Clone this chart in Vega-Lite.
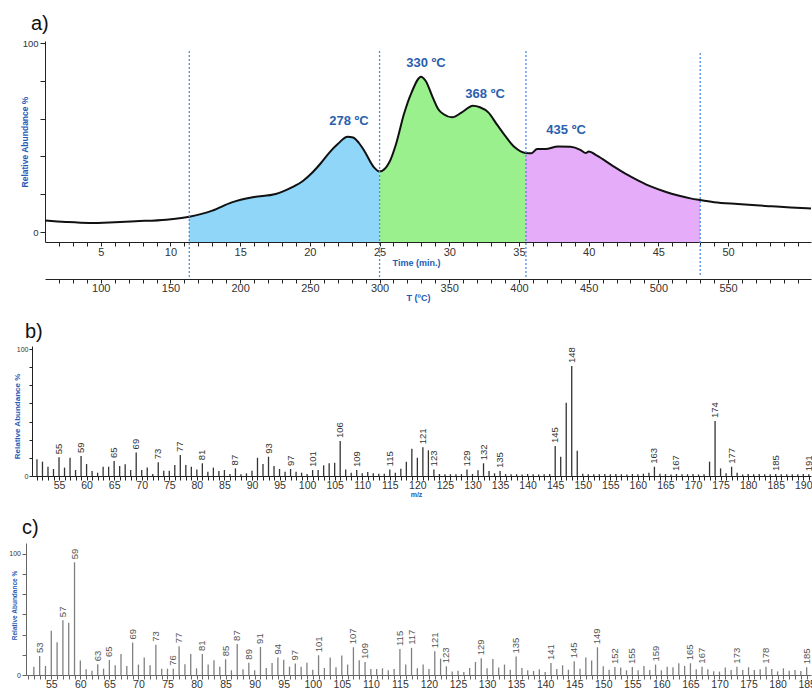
{
  "$schema": "https://vega.github.io/schema/vega-lite/v6.json",
  "padding": {"left": 8, "top": 14, "right": 0, "bottom": 0},
  "config": {
    "view": {"stroke": null},
    "font": "Liberation Sans",
    "axis": {"grid": false, "domainColor": "#222", "tickColor": "#222", "labelColor": "#333", "labelFont": "Liberation Sans", "labelOverlap": false, "labelFlush": false},
    "title": {"font": "Liberation Sans", "fontWeight": "normal", "color": "#111", "anchor": "start", "frame": "group"}
  },
  "datasets": {
    "curve": [
      {"t": 1.0, "v": 6.1}, {"t": 2.5, "v": 5.3}, {"t": 4.2, "v": 4.8}, {"t": 6.0, "v": 5.2}, {"t": 7.5, "v": 5.7},
      {"t": 9.7, "v": 6.5}, {"t": 11.35, "v": 8.1}, {"t": 13.0, "v": 11.3}, {"t": 14.4, "v": 15.7}, {"t": 15.9, "v": 18.4},
      {"t": 17.55, "v": 20.1}, {"t": 18.7, "v": 23.6}, {"t": 19.5, "v": 27.0}, {"t": 20.2, "v": 31.6}, {"t": 20.8, "v": 36.5},
      {"t": 21.4, "v": 42.0}, {"t": 22.0, "v": 46.5}, {"t": 22.7, "v": 50.4}, {"t": 23.1, "v": 50.0}, {"t": 23.5, "v": 47.3},
      {"t": 23.9, "v": 43.0}, {"t": 24.6, "v": 34.2}, {"t": 25.0, "v": 32.0}, {"t": 25.7, "v": 36.9}, {"t": 26.2, "v": 47.0},
      {"t": 26.75, "v": 62.4}, {"t": 27.3, "v": 73.9}, {"t": 27.98, "v": 82.2}, {"t": 28.3, "v": 80.0}, {"t": 28.86, "v": 70.4},
      {"t": 29.2, "v": 65.1}, {"t": 29.6, "v": 62.3}, {"t": 30.2, "v": 60.7}, {"t": 30.9, "v": 63.3}, {"t": 31.7, "v": 66.8},
      {"t": 32.2, "v": 66.0}, {"t": 32.8, "v": 63.3}, {"t": 33.4, "v": 57.1}, {"t": 34.0, "v": 51.0}, {"t": 34.7, "v": 44.8},
      {"t": 35.5, "v": 41.8}, {"t": 35.9, "v": 41.7}, {"t": 36.3, "v": 43.9}, {"t": 36.9, "v": 43.9}, {"t": 37.8, "v": 45.3},
      {"t": 38.7, "v": 45.1}, {"t": 39.4, "v": 43.5}, {"t": 39.8, "v": 41.8}, {"t": 40.0, "v": 42.6}, {"t": 40.6, "v": 40.4},
      {"t": 41.7, "v": 35.1}, {"t": 42.6, "v": 31.0}, {"t": 43.6, "v": 27.1}, {"t": 44.5, "v": 24.0}, {"t": 45.5, "v": 21.3},
      {"t": 46.5, "v": 19.2}, {"t": 47.3, "v": 17.8}, {"t": 48.0, "v": 16.9}, {"t": 49.0, "v": 15.8}, {"t": 50.7, "v": 14.8},
      {"t": 52.0, "v": 14.1}, {"t": 53.1, "v": 13.6}, {"t": 54.5, "v": 13.0}, {"t": 55.95, "v": 12.5}
    ],
    "areas": [
      {"region": "r1", "t": 11.35, "v": 8.1}, {"region": "r1", "t": 13.0, "v": 11.3}, {"region": "r1", "t": 14.4, "v": 15.7},
      {"region": "r1", "t": 15.9, "v": 18.4}, {"region": "r1", "t": 17.55, "v": 20.1}, {"region": "r1", "t": 18.7, "v": 23.6},
      {"region": "r1", "t": 19.5, "v": 27.0}, {"region": "r1", "t": 20.2, "v": 31.6}, {"region": "r1", "t": 20.8, "v": 36.5},
      {"region": "r1", "t": 21.4, "v": 42.0}, {"region": "r1", "t": 22.0, "v": 46.5}, {"region": "r1", "t": 22.7, "v": 50.4},
      {"region": "r1", "t": 23.1, "v": 50.0}, {"region": "r1", "t": 23.5, "v": 47.3}, {"region": "r1", "t": 23.9, "v": 43.0},
      {"region": "r1", "t": 24.6, "v": 34.2}, {"region": "r1", "t": 25.0, "v": 32.0},
      {"region": "r2", "t": 25.0, "v": 32.0}, {"region": "r2", "t": 25.7, "v": 36.9}, {"region": "r2", "t": 26.2, "v": 47.0},
      {"region": "r2", "t": 26.75, "v": 62.4}, {"region": "r2", "t": 27.3, "v": 73.9}, {"region": "r2", "t": 27.98, "v": 82.2},
      {"region": "r2", "t": 28.3, "v": 80.0}, {"region": "r2", "t": 28.86, "v": 70.4}, {"region": "r2", "t": 29.2, "v": 65.1},
      {"region": "r2", "t": 29.6, "v": 62.3}, {"region": "r2", "t": 30.2, "v": 60.7}, {"region": "r2", "t": 30.9, "v": 63.3},
      {"region": "r2", "t": 31.7, "v": 66.8}, {"region": "r2", "t": 32.2, "v": 66.0}, {"region": "r2", "t": 32.8, "v": 63.3},
      {"region": "r2", "t": 33.4, "v": 57.1}, {"region": "r2", "t": 34.0, "v": 51.0}, {"region": "r2", "t": 34.7, "v": 44.8},
      {"region": "r2", "t": 35.5, "v": 41.8},
      {"region": "r3", "t": 35.5, "v": 41.8}, {"region": "r3", "t": 35.9, "v": 41.7}, {"region": "r3", "t": 36.3, "v": 43.9},
      {"region": "r3", "t": 36.9, "v": 43.9}, {"region": "r3", "t": 37.8, "v": 45.3}, {"region": "r3", "t": 38.7, "v": 45.1},
      {"region": "r3", "t": 39.4, "v": 43.5}, {"region": "r3", "t": 39.8, "v": 41.8}, {"region": "r3", "t": 40.0, "v": 42.6},
      {"region": "r3", "t": 40.6, "v": 40.4}, {"region": "r3", "t": 41.7, "v": 35.1}, {"region": "r3", "t": 42.6, "v": 31.0},
      {"region": "r3", "t": 43.6, "v": 27.1}, {"region": "r3", "t": 44.5, "v": 24.0}, {"region": "r3", "t": 45.5, "v": 21.3},
      {"region": "r3", "t": 46.5, "v": 19.2}, {"region": "r3", "t": 47.3, "v": 17.8}, {"region": "r3", "t": 48.0, "v": 16.9}
    ],
    "peaks": [
      {"t": 22.81, "v": 58.7, "label": "278 ºC"},
      {"t": 28.33, "v": 89.4, "label": "330 ºC"},
      {"t": 32.57, "v": 73.0, "label": "368 ºC"},
      {"t": 38.38, "v": 54.0, "label": "435 ºC"}
    ],
    "cuts": [
      {"t": 11.35, "top": 95.8, "bottom": -23.8},
      {"t": 25.0, "top": 95.8, "bottom": -23.8},
      {"t": 35.5, "top": 95.8, "bottom": -23.8},
      {"t": 48.0, "top": 94.7, "bottom": -23.8}
    ],
    "specB": [
      {"mz": 51, "v": 13.1}, {"mz": 52, "v": 11.3}, {"mz": 53, "v": 7.3}, {"mz": 54, "v": 5.5}, {"mz": 55, "v": 14.7, "lab": 1},
      {"mz": 56, "v": 6.6}, {"mz": 57, "v": 14.4}, {"mz": 58, "v": 4.7}, {"mz": 59, "v": 15.7, "lab": 1}, {"mz": 60, "v": 9.4},
      {"mz": 61, "v": 3.9}, {"mz": 62, "v": 2.6}, {"mz": 63, "v": 7.3}, {"mz": 64, "v": 7.3}, {"mz": 65, "v": 11.8, "lab": 1},
      {"mz": 66, "v": 7.9}, {"mz": 67, "v": 9.2}, {"mz": 68, "v": 4.7}, {"mz": 69, "v": 18.6, "lab": 1}, {"mz": 70, "v": 4.7},
      {"mz": 71, "v": 6.6}, {"mz": 72, "v": 1.6}, {"mz": 73, "v": 10.8, "lab": 1}, {"mz": 74, "v": 4.2}, {"mz": 75, "v": 4.2},
      {"mz": 76, "v": 8.7}, {"mz": 77, "v": 16.5, "lab": 1}, {"mz": 78, "v": 8.7}, {"mz": 79, "v": 7.3}, {"mz": 80, "v": 5.2},
      {"mz": 81, "v": 10.0, "lab": 1}, {"mz": 82, "v": 3.4}, {"mz": 83, "v": 6.6}, {"mz": 84, "v": 3.9}, {"mz": 85, "v": 4.7},
      {"mz": 86, "v": 1.6}, {"mz": 87, "v": 6.0, "lab": 1}, {"mz": 88, "v": 1.3}, {"mz": 89, "v": 2.1}, {"mz": 90, "v": 4.2},
      {"mz": 91, "v": 14.4}, {"mz": 92, "v": 9.4}, {"mz": 93, "v": 15.2, "lab": 1}, {"mz": 94, "v": 7.9}, {"mz": 95, "v": 5.5},
      {"mz": 96, "v": 3.4}, {"mz": 97, "v": 5.5, "lab": 1}, {"mz": 98, "v": 3.4}, {"mz": 99, "v": 2.6}, {"mz": 100, "v": 1.6},
      {"mz": 101, "v": 4.7, "lab": 1}, {"mz": 102, "v": 4.7}, {"mz": 103, "v": 8.4}, {"mz": 104, "v": 10.0}, {"mz": 105, "v": 10.5},
      {"mz": 106, "v": 27.6, "lab": 1}, {"mz": 107, "v": 5.2}, {"mz": 108, "v": 2.6}, {"mz": 109, "v": 4.7, "lab": 1}, {"mz": 110, "v": 2.1},
      {"mz": 111, "v": 3.1}, {"mz": 112, "v": 2.1}, {"mz": 113, "v": 1.8}, {"mz": 114, "v": 1.8}, {"mz": 115, "v": 5.2, "lab": 1},
      {"mz": 116, "v": 2.6}, {"mz": 117, "v": 5.8}, {"mz": 118, "v": 11.3}, {"mz": 119, "v": 21.5}, {"mz": 120, "v": 14.4},
      {"mz": 121, "v": 22.6, "lab": 1}, {"mz": 122, "v": 20.2}, {"mz": 123, "v": 5.2, "lab": 1}, {"mz": 124, "v": 1.6}, {"mz": 125, "v": 1.3},
      {"mz": 126, "v": 1.4}, {"mz": 127, "v": 1.3}, {"mz": 128, "v": 1.5}, {"mz": 129, "v": 5.2, "lab": 1}, {"mz": 130, "v": 1.6},
      {"mz": 131, "v": 4.5}, {"mz": 132, "v": 10.0, "lab": 1}, {"mz": 133, "v": 3.9}, {"mz": 134, "v": 2.1}, {"mz": 135, "v": 3.9, "lab": 1},
      {"mz": 136, "v": 1.5}, {"mz": 137, "v": 1.3}, {"mz": 138, "v": 1.4}, {"mz": 139, "v": 1.2}, {"mz": 140, "v": 1.6},
      {"mz": 141, "v": 1.3}, {"mz": 142, "v": 1.2}, {"mz": 143, "v": 1.3}, {"mz": 144, "v": 1.5}, {"mz": 145, "v": 23.6, "lab": 1},
      {"mz": 146, "v": 15.2}, {"mz": 147, "v": 57.7}, {"mz": 148, "v": 86.6, "lab": 1}, {"mz": 149, "v": 19.9}, {"mz": 150, "v": 1.8},
      {"mz": 151, "v": 1.4}, {"mz": 152, "v": 1.3}, {"mz": 153, "v": 1.4}, {"mz": 154, "v": 1.5}, {"mz": 155, "v": 1.3},
      {"mz": 156, "v": 1.6}, {"mz": 157, "v": 1.4}, {"mz": 158, "v": 1.2}, {"mz": 159, "v": 1.6}, {"mz": 160, "v": 1.3},
      {"mz": 161, "v": 1.8}, {"mz": 162, "v": 2.6}, {"mz": 163, "v": 7.3, "lab": 1}, {"mz": 164, "v": 1.8}, {"mz": 165, "v": 1.5},
      {"mz": 166, "v": 1.2}, {"mz": 167, "v": 1.6, "lab": 1}, {"mz": 168, "v": 1.3}, {"mz": 169, "v": 1.4}, {"mz": 170, "v": 1.6},
      {"mz": 171, "v": 1.2}, {"mz": 172, "v": 1.4}, {"mz": 173, "v": 11.3}, {"mz": 174, "v": 43.3, "lab": 1}, {"mz": 175, "v": 6.0},
      {"mz": 176, "v": 2.1}, {"mz": 177, "v": 7.3, "lab": 1}, {"mz": 178, "v": 2.6}, {"mz": 179, "v": 1.2}, {"mz": 180, "v": 1.6},
      {"mz": 181, "v": 1.4}, {"mz": 182, "v": 1.5}, {"mz": 183, "v": 1.4}, {"mz": 184, "v": 1.3}, {"mz": 185, "v": 1.6, "lab": 1},
      {"mz": 186, "v": 1.3}, {"mz": 187, "v": 1.4}, {"mz": 188, "v": 1.3}, {"mz": 189, "v": 1.4}, {"mz": 190, "v": 1.5},
      {"mz": 191, "v": 1.3, "lab": 1}
    ],
    "specC": [
      {"mz": 52, "v": 6.9}, {"mz": 53, "v": 15.7, "lab": 1}, {"mz": 54, "v": 7.5}, {"mz": 55, "v": 36.5}, {"mz": 56, "v": 27.1},
      {"mz": 57, "v": 45.3, "lab": 1}, {"mz": 58, "v": 43.1}, {"mz": 59, "v": 93.1, "lab": 1}, {"mz": 60, "v": 11.9}, {"mz": 61, "v": 4.7},
      {"mz": 62, "v": 3.6}, {"mz": 63, "v": 8.8, "lab": 1}, {"mz": 64, "v": 5.2}, {"mz": 65, "v": 12.4, "lab": 1}, {"mz": 66, "v": 8.0},
      {"mz": 67, "v": 17.4}, {"mz": 68, "v": 7.5}, {"mz": 69, "v": 26.8, "lab": 1}, {"mz": 70, "v": 8.6}, {"mz": 71, "v": 14.4},
      {"mz": 72, "v": 8.0}, {"mz": 73, "v": 24.9, "lab": 1}, {"mz": 74, "v": 5.2}, {"mz": 75, "v": 5.2}, {"mz": 76, "v": 5.2, "lab": 1},
      {"mz": 77, "v": 23.8, "lab": 1}, {"mz": 78, "v": 8.8}, {"mz": 79, "v": 17.4}, {"mz": 80, "v": 5.5}, {"mz": 81, "v": 17.4, "lab": 1},
      {"mz": 82, "v": 8.6}, {"mz": 83, "v": 12.2}, {"mz": 84, "v": 6.9}, {"mz": 85, "v": 13.0, "lab": 1}, {"mz": 86, "v": 3.9},
      {"mz": 87, "v": 25.7, "lab": 1}, {"mz": 88, "v": 4.7}, {"mz": 89, "v": 10.2, "lab": 1}, {"mz": 90, "v": 3.9}, {"mz": 91, "v": 23.2, "lab": 1},
      {"mz": 92, "v": 5.8}, {"mz": 93, "v": 9.9}, {"mz": 94, "v": 14.4, "lab": 1}, {"mz": 95, "v": 12.5}, {"mz": 96, "v": 6.9},
      {"mz": 97, "v": 9.4, "lab": 1}, {"mz": 98, "v": 6.9}, {"mz": 99, "v": 10.2}, {"mz": 100, "v": 4.4}, {"mz": 101, "v": 16.3, "lab": 1},
      {"mz": 102, "v": 5.8}, {"mz": 103, "v": 14.4}, {"mz": 104, "v": 6.4}, {"mz": 105, "v": 16.0}, {"mz": 106, "v": 8.6},
      {"mz": 107, "v": 22.9, "lab": 1}, {"mz": 108, "v": 12.2}, {"mz": 109, "v": 10.8, "lab": 1}, {"mz": 110, "v": 5.0}, {"mz": 111, "v": 5.0},
      {"mz": 112, "v": 5.5}, {"mz": 113, "v": 3.9}, {"mz": 114, "v": 5.0}, {"mz": 115, "v": 21.5, "lab": 1}, {"mz": 116, "v": 8.6},
      {"mz": 117, "v": 22.4, "lab": 1}, {"mz": 118, "v": 5.5}, {"mz": 119, "v": 8.6}, {"mz": 120, "v": 5.0}, {"mz": 121, "v": 19.6, "lab": 1},
      {"mz": 122, "v": 13.5}, {"mz": 123, "v": 7.2, "lab": 1}, {"mz": 124, "v": 2.8}, {"mz": 125, "v": 3.6}, {"mz": 126, "v": 2.5},
      {"mz": 127, "v": 5.8}, {"mz": 128, "v": 10.8}, {"mz": 129, "v": 13.8, "lab": 1}, {"mz": 130, "v": 5.5}, {"mz": 131, "v": 13.3},
      {"mz": 132, "v": 6.1}, {"mz": 133, "v": 8.6}, {"mz": 134, "v": 4.4}, {"mz": 135, "v": 15.2, "lab": 1}, {"mz": 136, "v": 5.8},
      {"mz": 137, "v": 3.9}, {"mz": 138, "v": 3.3}, {"mz": 139, "v": 4.7}, {"mz": 140, "v": 2.5}, {"mz": 141, "v": 9.9, "lab": 1},
      {"mz": 142, "v": 5.0}, {"mz": 143, "v": 8.0}, {"mz": 144, "v": 4.4}, {"mz": 145, "v": 11.3, "lab": 1}, {"mz": 146, "v": 5.2},
      {"mz": 147, "v": 14.4}, {"mz": 148, "v": 11.9}, {"mz": 149, "v": 22.9, "lab": 1}, {"mz": 150, "v": 7.2}, {"mz": 151, "v": 4.4},
      {"mz": 152, "v": 6.6, "lab": 1}, {"mz": 153, "v": 6.1}, {"mz": 154, "v": 3.9}, {"mz": 155, "v": 6.6, "lab": 1}, {"mz": 156, "v": 3.9},
      {"mz": 157, "v": 7.5}, {"mz": 158, "v": 4.1}, {"mz": 159, "v": 8.6, "lab": 1}, {"mz": 160, "v": 3.9}, {"mz": 161, "v": 6.9},
      {"mz": 162, "v": 6.4}, {"mz": 163, "v": 9.7}, {"mz": 164, "v": 7.5}, {"mz": 165, "v": 9.7, "lab": 1}, {"mz": 166, "v": 4.7},
      {"mz": 167, "v": 6.9, "lab": 1}, {"mz": 168, "v": 4.7}, {"mz": 169, "v": 3.0}, {"mz": 170, "v": 2.8}, {"mz": 171, "v": 6.1},
      {"mz": 172, "v": 4.1}, {"mz": 173, "v": 6.9, "lab": 1}, {"mz": 174, "v": 4.1}, {"mz": 175, "v": 6.4}, {"mz": 176, "v": 4.1},
      {"mz": 177, "v": 4.7}, {"mz": 178, "v": 6.9, "lab": 1}, {"mz": 179, "v": 5.0}, {"mz": 180, "v": 3.0}, {"mz": 181, "v": 5.5},
      {"mz": 182, "v": 3.6}, {"mz": 183, "v": 4.1}, {"mz": 184, "v": 3.3}, {"mz": 185, "v": 6.4, "lab": 1}
    ]
  },
  "spacing": 20,
  "vconcat": [
    {
      "title": {"text": "a)", "fontSize": 20, "dx": 5, "offset": 4},
      "width": 785,
      "height": 201,
      "resolve": {"scale": {"x": "independent"}},
      "layer": [
        {
          "encoding": {
            "x": {"field": "t", "type": "quantitative",
              "scale": {"domain": [1.0, 55.95], "range": [19, 785], "nice": false, "zero": false},
              "axis": {"title": "Time (min.)", "titleColor": "#1f5bb5", "titleFontWeight": "bold", "titleFontSize": 9,
                "titlePadding": 1, "titleX": 390,
                "values": [2,3,4,5,6,7,8,9,10,11,12,13,14,15,16,17,18,19,20,21,22,23,24,25,26,27,28,29,30,31,32,33,34,35,36,37,38,39,40,41,42,43,44,45,46,47,48,49,50,51,52,53,54,55],
                "labelExpr": "(datum.value % 5 == 0 && datum.value <= 50) ? datum.label : ''", "labelOverlap": false, "labelFlush": false,
                "tickSize": 4, "labelFontSize": 11, "labelPadding": 0}},
            "y": {"field": "v", "type": "quantitative",
              "scale": {"domain": [-5.29, 101.06], "nice": false, "zero": false},
              "axis": {"title": "Relative Abundance %", "titleColor": "#1f5bb5", "titleFontWeight": "bold", "titleFontSize": 8.5,
                "titleBaseline": "middle", "titleX": -21, "offset": -19,
                "values": [0,10,20,30,40,50,60,70,80,90,100],
                "labelExpr": "datum.value == 0 || datum.value == 100 ? datum.label : ''",
                "tickSize": 5, "labelFontSize": 9.5, "labelPadding": 2}}
          },
          "layer": [
            {
              "data": {"name": "areas"},
              "mark": {"type": "area", "interpolate": "monotone", "opacity": 1},
              "encoding": {
                "y2": {"datum": -5.29},
                "color": {"field": "region", "type": "nominal",
                  "scale": {"domain": ["r1", "r2", "r3"], "range": ["#8fd6f8", "#99f08d", "#e5adf9"]}, "legend": null}
              }
            },
            {
              "data": {"name": "curve"},
              "mark": {"type": "line", "interpolate": "monotone", "color": "#111", "strokeWidth": 2}
            },
            {
              "data": {"name": "peaks"},
              "mark": {"type": "text", "fontSize": 13, "fontWeight": "bold", "color": "#2a5fae", "align": "center", "baseline": "middle"},
              "encoding": {"text": {"field": "label"}}
            }
          ]
        },
        {
          "data": {"name": "cuts"},
          "mark": {"type": "rule", "color": "#4a8fe0", "strokeDash": [2, 2], "strokeWidth": 1.3},
          "encoding": {
            "x": {"field": "t", "type": "quantitative",
              "scale": {"domain": [1.0, 55.95], "range": [19, 785], "nice": false, "zero": false},
              "axis": {"orient": "bottom", "offset": 37, "title": "T (ºC)", "titleColor": "#1f5bb5", "titleFontWeight": "bold", "titleFontSize": 9,
                "titlePadding": 0, "titleX": 392,
                "values": [2,3,4,5,6,7,8,9,10,11,12,13,14,15,16,17,18,19,20,21,22,23,24,25,26,27,28,29,30,31,32,33,34,35,36,37,38,39,40,41,42,43,44,45,46,47,48,49,50,51,52,53,54,55],
                "labelExpr": "(datum.value % 5 == 0 && datum.value <= 50) ? format(50 + 10 * datum.value, 'd') : ''", "labelOverlap": false, "labelFlush": false,
                "tickSize": 4, "labelFontSize": 11, "labelPadding": -1}},
            "y": {"field": "top", "type": "quantitative"},
            "y2": {"field": "bottom"}
          }
        }
      ]
    },
    {
      "title": {"text": "b)", "fontSize": 20, "dx": -1, "offset": 3},
      "width": 785,
      "height": 130,
      "encoding": {
        "x": {"field": "mz", "type": "quantitative",
          "scale": {"domain": [50.1, 191.4], "range": [6, 785], "nice": false, "zero": false},
          "axis": {"title": "m/z", "titleColor": "#1f5bb5", "titleFontWeight": "bold", "titleFontSize": 7, "titlePadding": 0, "titleX": 390,
            "values": [51,52,53,54,55,56,57,58,59,60,61,62,63,64,65,66,67,68,69,70,71,72,73,74,75,76,77,78,79,80,81,82,83,84,85,86,87,88,89,90,91,92,93,94,95,96,97,98,99,100,101,102,103,104,105,106,107,108,109,110,111,112,113,114,115,116,117,118,119,120,121,122,123,124,125,126,127,128,129,130,131,132,133,134,135,136,137,138,139,140,141,142,143,144,145,146,147,148,149,150,151,152,153,154,155,156,157,158,159,160,161,162,163,164,165,166,167,168,169,170,171,172,173,174,175,176,177,178,179,180,181,182,183,184,185,186,187,188,189,190,191],
            "labelExpr": "datum.value % 5 == 0 ? datum.label : ''", "labelOverlap": false, "labelFlush": false,
            "tickSize": 4, "labelFontSize": 10.5, "labelPadding": 0}},
        "y": {"field": "v", "type": "quantitative",
          "scale": {"domain": [0, 102.4], "nice": false},
          "axis": {"title": "Relative Abundance %", "titleColor": "#1f5bb5", "titleFontWeight": "bold", "titleFontSize": 8,
            "titleBaseline": "middle", "titleX": -15, "titleY": 70, "offset": -6,
            "values": [0, 14.2857, 28.5714, 42.8571, 57.1429, 71.4286, 85.7143, 100],
            "labelExpr": "datum.value == 0 || datum.value == 100 ? format(datum.value, 'd') : ''",
            "tickSize": 3, "labelFontSize": 7, "labelPadding": 1}}
      },
      "layer": [
        {
          "data": {"name": "specB"},
          "mark": {"type": "rule", "color": "#333", "strokeWidth": 1.3},
          "encoding": {"y2": {"datum": 0}}
        },
        {
          "data": {"name": "specB"},
          "transform": [{"filter": "datum.lab == 1"}],
          "mark": {"type": "text", "angle": 270, "align": "left", "baseline": "middle", "dx": 3, "fontSize": 9.5, "color": "#333"},
          "encoding": {"text": {"field": "mz", "type": "quantitative"}}
        }
      ]
    },
    {
      "title": {"text": "c)", "fontSize": 20, "dx": -4, "offset": 5},
      "width": 785,
      "height": 132,
      "encoding": {
        "x": {"field": "mz", "type": "quantitative",
          "scale": {"domain": [50.65, 185.75], "nice": false, "zero": false},
          "axis": {"title": null,
            "values": [51,52,53,54,55,56,57,58,59,60,61,62,63,64,65,66,67,68,69,70,71,72,73,74,75,76,77,78,79,80,81,82,83,84,85,86,87,88,89,90,91,92,93,94,95,96,97,98,99,100,101,102,103,104,105,106,107,108,109,110,111,112,113,114,115,116,117,118,119,120,121,122,123,124,125,126,127,128,129,130,131,132,133,134,135,136,137,138,139,140,141,142,143,144,145,146,147,148,149,150,151,152,153,154,155,156,157,158,159,160,161,162,163,164,165,166,167,168,169,170,171,172,173,174,175,176,177,178,179,180,181,182,183,184,185],
            "labelExpr": "datum.value % 5 == 0 ? datum.label : ''", "labelOverlap": false, "labelFlush": false,
            "tickSize": 4, "labelFontSize": 10.5, "labelPadding": 0, "domainColor": "#666", "tickColor": "#666"}},
        "y": {"field": "v", "type": "quantitative",
          "scale": {"domain": [0, 109], "nice": false},
          "axis": {"title": "Relative Abundance %", "titleColor": "#1f5bb5", "titleFontWeight": "bold", "titleFontSize": 6.5,
            "titleBaseline": "middle", "titleX": -12, "titleY": 62,
            "values": [0, 16.6667, 33.3333, 50, 66.6667, 83.3333, 100],
            "labelExpr": "datum.value == 0 || datum.value == 100 ? format(datum.value, 'd') : ''",
            "tickSize": 4, "labelFontSize": 7, "labelPadding": 1.5, "domainColor": "#666", "tickColor": "#666"}}
      },
      "layer": [
        {
          "data": {"name": "specC"},
          "mark": {"type": "rule", "color": "#808080", "strokeWidth": 1.3},
          "encoding": {"y2": {"datum": 0}}
        },
        {
          "data": {"name": "specC"},
          "transform": [{"filter": "datum.lab == 1"}],
          "mark": {"type": "text", "angle": 270, "align": "left", "baseline": "middle", "dx": 3, "fontSize": 9.5, "color": "#555"},
          "encoding": {"text": {"field": "mz", "type": "quantitative"}}
        }
      ]
    }
  ]
}
